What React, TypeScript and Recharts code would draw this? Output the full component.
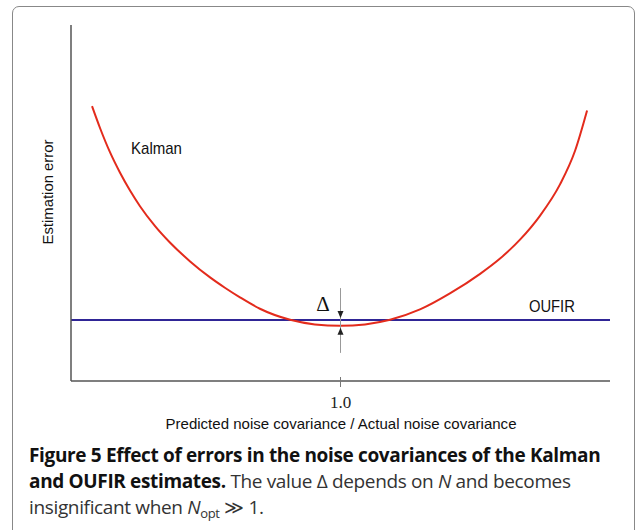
import { LineChart, Line, XAxis, YAxis, ReferenceLine, ReferenceDot } from "recharts";

// Kalman estimation error vs. predicted/actual noise covariance ratio
const kalmanX = [
  0.078, 0.108, 0.145, 0.182, 0.219, 0.256, 0.312, 0.367, 0.442, 0.516, 0.571, 0.627, 0.701, 0.813, 0.905, 1.0,
  1.091, 1.184, 1.295, 1.406, 1.518, 1.592, 1.666, 1.74, 1.815, 1.87, 1.915,
];
const kalmanY = [
  7.72, 7.1, 6.42, 5.85, 5.35, 4.91, 4.35, 3.89, 3.36, 2.91, 2.62, 2.35, 2.03, 1.72, 1.59, 1.55,
  1.59, 1.72, 2.01, 2.46, 3.01, 3.44, 3.97, 4.64, 5.53, 6.46, 7.6,
];

// OUFIR is flat
const oufirX = [0, 2];
const oufirY = [1.71, 1.71];

const xTicks = [1];
const xTickLabels = ["1.0"];

const kalmanData = kalmanX.map((x, i) => ({ x, y: kalmanY[i] }));
const oufirData = oufirX.map((x, i) => ({ x, y: oufirY[i] }));

const narrow = "'Liberation Sans Narrow', 'Liberation Sans', Arial, sans-serif";
const serif = "'Liberation Serif', 'Times New Roman', serif";

function OneTick(props: any) {
  const { x, y, payload } = props;
  const idx = xTicks.indexOf(payload.value);
  return (
    <g>
      <line x1={x} x2={x} y1={y - 4} y2={y + 6} stroke="#777" strokeWidth={1} />
      <text x={x} y={y + 27} textAnchor="middle" fontFamily={serif} fontSize={17} fill="#222">
        {xTickLabels[idx]}
      </text>
    </g>
  );
}

const arrowDown = (p: any) => (
  <path d={`M${p.cx - 3},${p.cy - 9} L${p.cx + 3},${p.cy - 9} L${p.cx},${p.cy - 2} Z`} fill="#222" />
);
const arrowUp = (p: any) => (
  <path d={`M${p.cx - 3},${p.cy + 9} L${p.cx + 3},${p.cy + 9} L${p.cx},${p.cy + 2} Z`} fill="#222" />
);

const textShape = (label: string, anchor: string, font: string, size: number, len?: number) => (p: any) => (
  <text
    x={p.cx}
    y={p.cy}
    textAnchor={anchor}
    fontFamily={font}
    fontSize={size}
    fill="#111"
    textLength={len}
    lengthAdjust={len ? "spacingAndGlyphs" : undefined}
  >
    {label}
  </text>
);

export default function App() {
  return (
    <div style={{ position: "absolute", left: 0, top: 0, width: 637, height: 530, overflow: "hidden", background: "#fff" }}>
      <div
        style={{
          position: "absolute",
          left: 12,
          top: 6,
          width: 621,
          height: 600,
          border: "1.5px solid #888",
          borderRadius: 7,
        }}
      />
      <div style={{ position: "absolute", left: 0, top: 0 }}>
        <LineChart width={637} height={530} margin={{ top: 25, right: 27, left: 31, bottom: 119 }}>
          <XAxis
            type="number"
            dataKey="x"
            domain={[0, 2]}
            ticks={xTicks}
            height={30}
            tickSize={0}
            tickMargin={0}
            tickLine={false}
            tick={<OneTick />}
            axisLine={{ stroke: "#555", strokeWidth: 1.5 }}
            allowDataOverflow
          />
          <YAxis
            type="number"
            domain={[0, 10]}
            width={40}
            tick={false}
            tickLine={false}
            axisLine={{ stroke: "#555", strokeWidth: 1.5 }}
            allowDataOverflow
          />
          <Line data={oufirData} dataKey="y" type="linear" stroke="#2f2596" strokeWidth={2} dot={false} isAnimationActive={false} />
          <Line data={kalmanData} dataKey="y" type="monotone" stroke="#e32b1c" strokeWidth={2} dot={false} isAnimationActive={false} />
          <ReferenceLine segment={[{ x: 1, y: 2.61 }, { x: 1, y: 0.79 }]} stroke="#999" strokeWidth={1} />
          <ReferenceDot x={1} y={1.71} shape={arrowDown} />
          <ReferenceDot x={1} y={1.55} shape={arrowUp} />
          <ReferenceDot x={0.2226} y={6.376} shape={textShape("Kalman", "start", narrow, 17, 51)} />
          <ReferenceDot x={1.699} y={1.938} shape={textShape("OUFIR", "start", narrow, 17, 46)} />
          <ReferenceDot x={0.935} y={1.966} shape={textShape("Δ", "middle", serif, 21)} />
        </LineChart>
      </div>
      <svg width={637} height={530} style={{ position: "absolute", left: 0, top: 0, pointerEvents: "none" }}>
        <text
          transform="translate(53,192) rotate(-90)"
          textAnchor="middle"
          fontFamily={narrow}
          fontSize={15}
          fill="#111"
          textLength={105}
          lengthAdjust="spacingAndGlyphs"
        >
          Estimation error
        </text>
        <text x={341} y={429} textAnchor="middle" fontFamily={narrow} fontSize={15} fill="#111" textLength={351} lengthAdjust="spacingAndGlyphs">
          Predicted noise covariance / Actual noise covariance
        </text>
      </svg>
      <div
        style={{
          position: "absolute",
          left: 29,
          top: 442,
          width: 605,
          whiteSpace: "nowrap",
          fontFamily: "'Open Sans', sans-serif",
          fontSize: 19,
          lineHeight: "26px",
          color: "#333",
          letterSpacing: -0.35,
        }}
      >
        <b style={{ color: "#111" }}>Figure 5 Effect of errors in the noise covariances of the Kalman</b>
        <br />
        <b style={{ color: "#111" }}>and OUFIR estimates.</b> The value Δ depends on <i>N</i> and becomes
        <br />
        insignificant when <i>N</i>
        <sub style={{ fontSize: 13, verticalAlign: "-4px", lineHeight: 0 }}>opt</sub> ≫ 1.
      </div>
    </div>
  );
}
